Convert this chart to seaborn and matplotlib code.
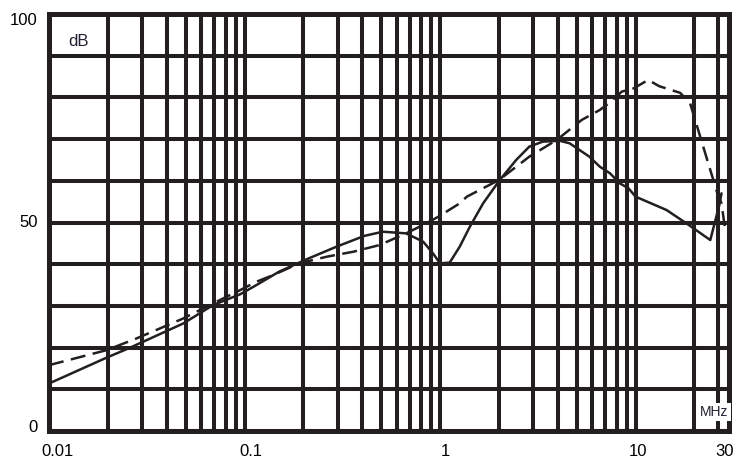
import numpy as np
import pandas as pd
import seaborn as sns
import matplotlib
matplotlib.use('Agg')
import matplotlib.pyplot as plt
from matplotlib.ticker import FixedLocator, NullFormatter
from matplotlib.transforms import ScaledTranslation

# solid curve (MHz, dB)
solid_freq = [0.01, 0.0197, 0.026, 0.0486, 0.069, 0.095, 0.115, 0.15, 0.208, 0.295,
              0.41, 0.51, 0.67, 0.82, 0.92, 1.0, 1.12, 1.26, 1.42, 1.66, 2.02, 2.45,
              2.86, 3.35, 4.1, 4.6, 5.8, 6.56, 7.4, 8.3, 9.2, 10.0, 14.4, 18.2, 24.1,
              26.8, 27.5]
solid_db = [11.4, 17.6, 20.0, 25.8, 30.2, 32.8, 35.0, 38.2, 41.2, 44.2,
            46.8, 47.8, 47.4, 45.4, 42.6, 40.2, 40.4, 44.2, 49.0, 54.6, 60.2, 65.0,
            68.2, 69.4, 69.6, 69.0, 65.8, 63.4, 61.8, 59.4, 58.2, 56.2, 53.0, 49.8, 45.8,
            54.2, 57.0]

# dashed curve (MHz, dB)
dashed_freq = [0.01, 0.0197, 0.028, 0.0486, 0.069, 0.095, 0.115, 0.14, 0.19, 0.263,
               0.36, 0.49, 0.67, 0.85, 0.98, 1.26, 1.37, 2.0, 2.86, 3.95, 5.3, 6.56,
               7.3, 8.5, 9.8, 11.6, 13.2, 16.9, 19.0, 21.4, 24.1, 26.2, 27.5, 28.9]
dashed_db = [15.8, 19.4, 22.2, 27.0, 30.6, 33.8, 35.8, 37.4, 40.2, 41.8,
             43.0, 44.6, 47.4, 49.8, 51.4, 54.6, 56.2, 60.2, 65.8, 69.8, 74.6, 77.0,
             78.6, 81.4, 82.2, 84.2, 82.7, 81.1, 78.6, 70.6, 62.6, 57.0, 54.6, 47.4]

x_ticks = [0.01, 0.1, 1, 10, 30]
x_tick_labels = ["0.01", "0.1", "1", "10", "30"]
x_grid = [m * d for d in (0.01, 0.1, 1) for m in range(1, 10)] + [10, 20, 26.5, 30]
y_ticks = list(range(0, 101, 10))
y_tick_labels = ["0", "", "", "", "", "50", "", "", "", "", "100"]

ink = "#231f20"

sns.set_style("white")
plt.rcParams['font.family'] = ['Liberation Sans', 'DejaVu Sans']

solid = pd.DataFrame({"freq": solid_freq, "db": solid_db})
dashed = pd.DataFrame({"freq": dashed_freq, "db": dashed_db})

fig = plt.figure(figsize=(7.43, 4.68), dpi=100)
ax = fig.add_axes([0.066, 0.079, 0.915, 0.891])

sns.lineplot(data=solid, x="freq", y="db", ax=ax, color=ink, lw=1.8,
             estimator=None, zorder=3)
sns.lineplot(data=dashed, x="freq", y="db", ax=ax, color=ink, lw=1.8,
             estimator=None, linestyle=(0, (6, 3)), zorder=3)

ax.set_xscale('log')
ax.set_xlim(0.01, 30)
ax.set_ylim(0, 100)
ax.set_xticks(x_ticks)
ax.set_xticklabels(x_tick_labels)
ax.xaxis.set_minor_locator(FixedLocator(x_grid))
ax.xaxis.set_minor_formatter(NullFormatter())
ax.set_yticks(y_ticks)
ax.set_yticklabels(y_tick_labels)
ax.tick_params(which='both', length=0, labelsize=12, colors='black')
ax.tick_params(axis='x', pad=9)
ax.tick_params(axis='y', pad=8)
ax.grid(which='both', color=ink, lw=2.9)
ax.set_axisbelow(True)
for s in ax.spines.values():
    s.set_color(ink)
    s.set_linewidth(3.6)
ax.set_xlabel("")
ax.set_ylabel("")

# labels in the original sit a little off their grid lines
x_shift = [8, 6, 5, 2, -4]
for lab, dx in zip(ax.get_xticklabels(), x_shift):
    lab.set_transform(lab.get_transform() + ScaledTranslation(dx / 100, 0, fig.dpi_scale_trans))
y_labels = ax.get_yticklabels()
y_labels[0].set_transform(y_labels[0].get_transform() + ScaledTranslation(0, 0.05, fig.dpi_scale_trans))
y_labels[5].set_transform(y_labels[5].get_transform() + ScaledTranslation(0, 0.02, fig.dpi_scale_trans))
y_labels[-1].set_transform(y_labels[-1].get_transform() + ScaledTranslation(0, -0.05, fig.dpi_scale_trans))

ax.text(0.0125, 93.4, "dB", fontsize=12, color="#222233", va='center', ha='left', zorder=4)
ax.text(25.3, 4.6, "MHz", fontsize=10, color="#222233", va='center', ha='center', zorder=4,
        bbox=dict(facecolor='white', edgecolor='none', pad=1.5))

fig.savefig("out.png", dpi=100)
